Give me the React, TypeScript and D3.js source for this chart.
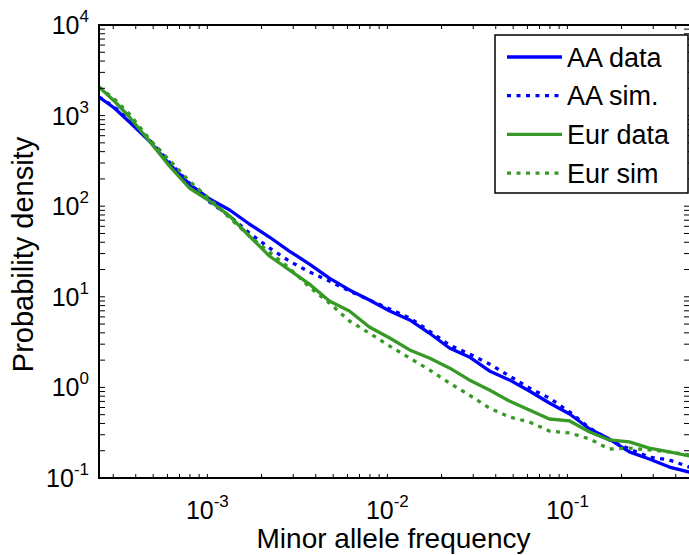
import React, { useEffect } from 'react';
import * as d3 from 'd3';

// minor allele frequency bins (shared by all four curves)
const freq = [
  2.5e-4, 3.04e-4, 3.69e-4, 4.76e-4, 6.15e-4, 7.94e-4, 1.03e-3, 1.33e-3, 1.71e-3, 2.21e-3,
  2.85e-3, 3.69e-3, 4.76e-3, 6.15e-3, 7.94e-3, 1.03e-2, 1.33e-2, 1.71e-2, 2.21e-2, 2.85e-2,
  3.69e-2, 4.76e-2, 6.15e-2, 7.94e-2, 0.103, 0.133, 0.171, 0.221, 0.285, 0.369, 0.476,
];

const aaData = [
  1604, 1213, 850, 524, 292, 176, 120, 90.8, 63.6, 45.7,
  32.0, 23.0, 16.1, 11.9, 9.22, 6.97, 5.55, 3.98, 2.72, 2.17,
  1.52, 1.21, 0.913, 0.673, 0.509, 0.347, 0.269, 0.194, 0.162, 0.132, 0.116,
];
const aaSim = [
  1604, 1244, 894, 538, 307, 180, 111, 77.9, 50.6, 34.6,
  24.8, 18.8, 14.9, 11.6, 9.22, 7.33, 5.83, 4.19, 2.94, 2.34,
  1.81, 1.34, 0.985, 0.764, 0.535, 0.356, 0.263, 0.209, 0.17, 0.158, 0.132,
];
const eurData = [
  2070, 1449, 965, 524, 278, 158.8, 114.1, 77.9, 46.9, 28.2,
  19.8, 13.8, 8.99, 6.97, 4.64, 3.51, 2.59, 2.11, 1.64, 1.21,
  0.936, 0.708, 0.563, 0.448, 0.426, 0.322, 0.263, 0.25, 0.214, 0.194, 0.175,
];
const eurSim = [
  2070, 1525, 1041, 551, 323.5, 189.7, 120.1, 74.1, 46.9, 31.2,
  20.8, 12.8, 8.54, 5.41, 3.98, 2.86, 2.11, 1.56, 1.12, 0.824,
  0.592, 0.471, 0.415, 0.33, 0.314, 0.269, 0.209, 0.214, 0.204, 0.194, 0.179,
];

const xTickExps = [-3, -2, -1];
const yTickExps = [-1, 0, 1, 2, 3, 4];
const legendLabels = ['AA data', 'AA sim.', 'Eur data', 'Eur sim'];

const BLUE = '#0000ff';
const GREEN = '#379a26';
const FONT = '"Liberation Sans", Arial, Helvetica, sans-serif';

const series = [
  { values: aaData, color: BLUE, dash: null },
  { values: aaSim, color: BLUE, dash: '4 5.5' },
  { values: eurData, color: GREEN, dash: null },
  { values: eurSim, color: GREEN, dash: '4 5.5' },
];

const left = 99, right = 690, top = 25, bottom = 478;

export default function App() {
  useEffect(() => {
    document.body.style.margin = '0';
  }, []);

  const x = d3.scaleLog().domain([2.5e-4, 0.48]).range([left, right]);
  const y = d3.scaleLog().domain([0.1, 1e4]).range([bottom, top]);

  const xMinor: number[] = [];
  for (let e = -4; e <= -1; e++) {
    for (let m = 1; m <= 9; m++) {
      const v = m * Math.pow(10, e);
      if (v >= x.domain()[0] && v <= x.domain()[1]) xMinor.push(v);
    }
  }
  const yMinor: number[] = [];
  for (let e = -1; e <= 3; e++) {
    for (let m = 1; m <= 9; m++) yMinor.push(m * Math.pow(10, e));
  }
  yMinor.push(1e4);

  const line = d3
    .line<number>()
    .x((d, i) => x(freq[i]))
    .y((d) => y(d));

  return (
    <svg width={689} height={555} style={{ display: 'block', background: '#fff' }} fontFamily={FONT}>
      <defs>
        <clipPath id="plot">
          <rect x={left} y={top} width={right - left} height={bottom - top} />
        </clipPath>
      </defs>

      {/* curves */}
      <g clipPath="url(#plot)">
        {series.map((s, i) => (
          <path
            key={i}
            d={line(s.values) || ''}
            fill="none"
            stroke={s.color}
            strokeWidth={3.3}
            strokeDasharray={s.dash || undefined}
            strokeLinejoin="round"
          />
        ))}
      </g>

      {/* ticks */}
      <g stroke="#000" strokeWidth={1}>
        {xMinor.map((v, i) => (
          <g key={'x' + i}>
            <line x1={x(v)} x2={x(v)} y1={bottom} y2={bottom - 4} />
            <line x1={x(v)} x2={x(v)} y1={top} y2={top + 4} />
          </g>
        ))}
        {yMinor.map((v, i) => (
          <g key={'y' + i}>
            <line x1={left} x2={left + 6} y1={y(v)} y2={y(v)} />
            <line x1={right} x2={right - 6} y1={y(v)} y2={y(v)} />
          </g>
        ))}
      </g>

      {/* axes box */}
      <rect
        x={left}
        y={top}
        width={right - left}
        height={bottom - top}
        fill="none"
        stroke="#000"
        strokeWidth={2}
      />

      {/* tick labels */}
      {xTickExps.map((e) => (
        <text key={'xl' + e} x={x(Math.pow(10, e))} y={519} textAnchor="middle" fontSize={25}>
          <tspan>10</tspan>
          <tspan dy={-12} fontSize={17}>{e}</tspan>
        </text>
      ))}
      {yTickExps.map((e) => (
        <text key={'yl' + e} x={89} y={y(Math.pow(10, e)) + 9} textAnchor="end" fontSize={25}>
          <tspan>10</tspan>
          <tspan dy={-12} fontSize={17}>{e}</tspan>
        </text>
      ))}

      {/* axis titles */}
      <text x={(left + right) / 2 - 1} y={548} textAnchor="middle" fontSize={28}>
        Minor allele frequency
      </text>
      <text transform={`translate(33,${(top + bottom) / 2 + 3}) rotate(-90)`} textAnchor="middle" fontSize={29}>
        Probability density
      </text>

      {/* legend */}
      <g>
        <rect x={495} y={35} width={193} height={158} fill="#fff" stroke="#000" strokeWidth={1.5} />
        {legendLabels.map((lab, i) => {
          const cy = 57 + i * 38.7;
          const s = series[i];
          return (
            <g key={lab}>
              <line
                x1={507}
                x2={562}
                y1={cy}
                y2={cy}
                stroke={s.color}
                strokeWidth={3.3}
                strokeDasharray={s.dash || undefined}
              />
              <text x={567} y={cy + 9.5} fontSize={27}>
                {lab}
              </text>
            </g>
          );
        })}
      </g>
    </svg>
  );
}
